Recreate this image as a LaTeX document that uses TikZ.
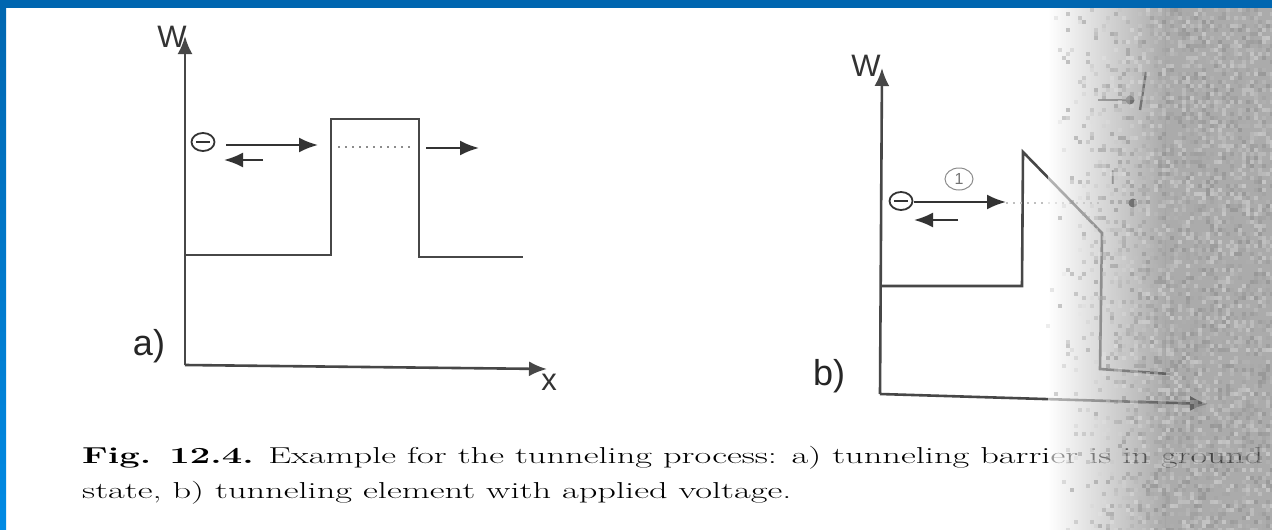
\documentclass[tikz,border=0pt]{standalone}
\usepackage{fontspec}
\setsansfont{Liberation Sans}
\usetikzlibrary{arrows.meta,shapes.geometric}
\definecolor{frameblue}{RGB}{0,102,176}
\definecolor{frameblue2}{RGB}{0,138,228}
\newlength\capw
\newcommand\capfont{\fontsize{23}{27}\selectfont}
\begin{document}
\settowidth\capw{\capfont\textbf{Fig. 12.4.} Example for the tunneling process: a) tunneling barrier}%
\begin{tikzpicture}[x=1pt,y=-1pt,
  prof/.style={draw=black!72, line width=2.6pt, line join=miter},
  axisl/.style={draw=black!72, line width=2.6pt, -{Latex[length=18pt,width=15pt]}},
  arr/.style={draw=black!80, line width=2.2pt, -{Latex[length=19pt,width=15pt]}},
  dots/.style={draw=black!45, line width=1.6pt, dash pattern=on 2pt off 5pt},
  elec/.style={ellipse, draw=black!80, line width=1.8pt, minimum width=23pt, minimum height=18pt, inner sep=0pt,
    path picture={\draw[line width=1.8pt] ([xshift=-7pt]path picture bounding box.center) -- ([xshift=7pt]path picture bounding box.center);}},
  lab/.style={font=\sffamily\fontsize{36}{36}\selectfont, text=black!85, inner sep=0pt},
  wlab/.style={font=\sffamily\fontsize{31}{31}\selectfont, text=black!80, inner sep=0pt},
  captext/.style={font=\capfont, anchor=base west, inner sep=0pt}
]
\useasboundingbox (0,0) rectangle (1272,530);
\fill[white] (0,0) rectangle (1272,530);

% ---------- panel a ----------
\coordinate (aO) at (185,365);
\coordinate (aY) at (185,36);
\coordinate (aX) at (547,369);
\draw[axisl] (aO) -- (aY);
\draw[axisl] (aO) -- (aX);
\coordinate (a1) at (185,255);
\coordinate (a2) at (331,255);
\coordinate (a3) at (331,119);
\coordinate (a4) at (419,119);
\coordinate (a5) at (419,257);
\coordinate (a6) at (523,257);
\draw[prof] (a1) -- (a2) -- (a3) -- (a4) -- (a5) -- (a6);
\coordinate (ad1) at (338,147);
\coordinate (ad2) at (414,147);
\draw[dots] (ad1) -- (ad2);
\node[elec] (ea) at (203,142) {};
\coordinate (ar1) at (226,145);
\coordinate (ar2) at (318,145);
\draw[arr] (ar1) -- (ar2);
\coordinate (al1) at (263,160);
\coordinate (al2) at (224,160);
\draw[arr] (al1) -- (al2);
\coordinate (at1) at (426,148);
\coordinate (at2) at (479,148);
\draw[arr] (at1) -- (at2);
\node[wlab] (wa) at (172,37) {W};
\node[lab] (la) at (149,346) {a)};
\node[wlab] (xa) at (549,382) {x};

% ---------- panel b ----------
\coordinate (bO) at (880,394);
\coordinate (bY) at (882,68);
\coordinate (bX) at (1208,404);
\draw[axisl] (bO) -- (bY);
\draw[axisl] (bO) -- (bX);
\coordinate (b1) at (882,286);
\coordinate (b2) at (1022,286);
\coordinate (b3) at (1023,152);
\coordinate (b4) at (1102,233);
\coordinate (b5) at (1100,369);
\coordinate (b6) at (1170,374);
\draw[prof] (b1) -- (b2) -- (b3) -- (b4) -- (b5) -- (b6);
\coordinate (bd1) at (1006,203);
\coordinate (bd2) at (1100,203);
\draw[dots, draw=black!25] (bd1) -- (bd2);
\node[elec] (eb) at (901,201) {};
\coordinate (br1) at (914,202);
\coordinate (br2) at (1006,202);
\draw[arr] (br1) -- (br2);
\coordinate (bl1) at (958,220);
\coordinate (bl2) at (914,220);
\draw[arr] (bl1) -- (bl2);
\node[ellipse, draw=black!45, line width=1pt, minimum width=28pt, minimum height=22pt, inner sep=0pt,
  font=\sffamily\fontsize{16}{16}\selectfont, text=black!55] (c1) at (959,179) {1};
\node[wlab] (wb) at (866,66) {W};
\node[lab] (lb) at (829,376) {b)};

% faint marks under the grey area
\fill[black!80] (1130,100) circle (4.5pt);
\draw[black!70, line width=2.4pt] (1146,72) -- (1140,110);
\draw[black!60, line width=1.8pt] (1098,100) -- (1126,100);
\node[font=\sffamily\fontsize{20}{20}\selectfont, text=black!60] (ib) at (1113,178) {I};
\fill[black!80] (1133,203) circle (4.5pt);

% ---------- caption ----------
\pgfmathsetmacro\capsx{996/\capw}
\node[captext] (cap1) at (82,463) {\scalebox{\capsx}[1]{\textbf{Fig. 12.4.} Example for the tunneling process: a) tunneling barrier is in ground}};
\node[captext] (cap2) at (82,498) {\scalebox{\capsx}[1]{state, b) tunneling element with applied voltage.}};

% grey scanned area on the right
\shade[left color=white, right color=black!55, opacity=0.6] (1048,8) rectangle (1165,530);
\fill[black!55, opacity=0.6] (1165,8) rectangle (1272,530);
\pgfmathsetseed{7}
\foreach \i in {0,...,57}{
  \foreach \j in {0,...,130}{
    \pgfmathsetmacro\px{1042+4*\i}
    \pgfmathsetmacro\py{8+4*\j}
    \pgfmathsetmacro\pp{min(1,max(0,(\px-1040)/120))^1.4}
    \pgfmathparse{rnd<0.55*\pp ? 1 : 0}
    \ifnum\pgfmathresult=1
      \pgfmathtruncatemacro\gv{10+40*rnd}
      \fill[black!\gv, opacity=0.45] (\px,\py) rectangle ++(4,4);
    \fi
  }
}

% ---------- frame ----------
\shade[top color=frameblue, bottom color=frameblue2] (0,0) rectangle (6,530);
\fill[frameblue] (0,0) rectangle (1272,8);
\end{tikzpicture}
\end{document}
